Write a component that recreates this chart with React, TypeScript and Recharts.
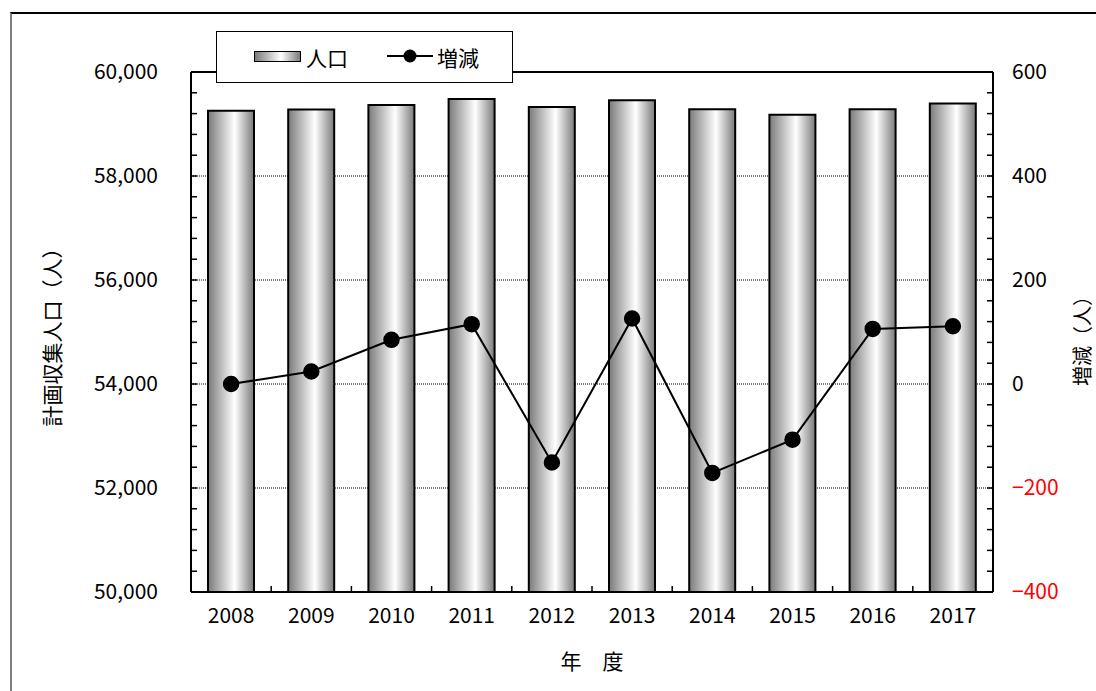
import React from 'react';
import { ComposedChart, Bar, Line, XAxis, YAxis, CartesianGrid, ReferenceLine, Legend, Label } from 'recharts';

const years = ['2008', '2009', '2010', '2011', '2012', '2013', '2014', '2015', '2016', '2017'];
const population = [59256, 59280, 59365, 59480, 59329, 59455, 59284, 59177, 59283, 59394];
const change = [0, 24, 85, 115, -151, 126, -171, -107, 106, 111];

const leftMajorTicks = [50000, 52000, 54000, 56000, 58000, 60000];
const rightMajorTicks = [-400, -200, 0, 200, 400, 600];
const leftTicks: number[] = [];
for (let v = 50000; v <= 60000; v += 400) leftTicks.push(v);
const rightTicks: number[] = [];
for (let v = -400; v <= 600; v += 40) rightTicks.push(v);

const data = years.map((y, i) => ({ year: y, pop: population[i], diff: change[i] }));

const FONT = "'Noto Sans CJK JP', 'Noto Sans', sans-serif";
const TICK_FS = 21;
const L_MARGIN = 33;
const R_MARGIN = 19;
const X_MARGIN = 16;

const LeftTick = (props: any) => {
  const { x, y, payload } = props;
  const axisX = x + L_MARGIN;
  const v = payload.value;
  return (
    <g>
      <line x1={axisX} x2={axisX + 6} y1={y} y2={y} stroke="#000" strokeWidth={1.5} />
      {leftMajorTicks.includes(v) && (
        <text x={x} y={y} dy="0.355em" textAnchor="end" fontFamily={FONT} fontSize={TICK_FS} fill="#000">
          {v.toLocaleString('en-US')}
        </text>
      )}
    </g>
  );
};

const RightTick = (props: any) => {
  const { x, y, payload } = props;
  const axisX = x - R_MARGIN;
  const v = payload.value;
  return (
    <g>
      <line x1={axisX - 6} x2={axisX} y1={y} y2={y} stroke="#000" strokeWidth={1.5} />
      {rightMajorTicks.includes(v) && (
        <text x={x} y={y} dy="0.355em" textAnchor="start" fontFamily={FONT} fontSize={TICK_FS} fill={v < 0 ? '#ff0000' : '#000'}>
          {v < 0 ? '\u2212' + Math.abs(v) : String(v)}
        </text>
      )}
    </g>
  );
};

const XTick = (props: any) => {
  const { x, y, payload, index, width, visibleTicksCount } = props;
  const axisY = y - X_MARGIN;
  const n = visibleTicksCount || years.length;
  const half = width ? width / n / 2 : 40;
  return (
    <g>
      {index < n - 1 && (
        <line x1={x + half} x2={x + half} y1={axisY} y2={axisY - 6} stroke="#000" strokeWidth={1.5} />
      )}
      <text x={x} y={y} dy="0.71em" textAnchor="middle" fontFamily={FONT} fontSize={TICK_FS} fill="#000">
        {payload.value}
      </text>
    </g>
  );
};

const LegendBox = () => (
  <div
    style={{
      position: 'relative',
      width: 297,
      height: 52,
      boxSizing: 'border-box',
      border: '1.5px solid #000',
      background: '#fff',
      fontFamily: FONT,
    }}
  >
    <div
      style={{
        position: 'absolute',
        left: 37,
        top: 19,
        width: 47,
        height: 11,
        boxSizing: 'border-box',
        border: '1.5px solid #000',
        background: 'linear-gradient(to right, #7a7a7a, #ffffff 58%, #7a7a7a)',
      }}
    />
    <span style={{ position: 'absolute', left: 89, top: 10, fontSize: 21, lineHeight: '30px', color: '#000' }}>人口</span>
    <svg style={{ position: 'absolute', left: 170, top: 14 }} width={46} height={20}>
      <line x1={0} x2={46} y1={10} y2={10} stroke="#000" strokeWidth={2} />
      <circle cx={23} cy={10} r={6.5} fill="#000" />
    </svg>
    <span style={{ position: 'absolute', left: 220, top: 10, fontSize: 21, lineHeight: '30px', color: '#000' }}>増減</span>
  </div>
);

export default function App() {
  return (
    <div style={{ position: 'absolute', left: 0, top: 0, width: 1096, height: 691, background: '#fff' }}>
      <div
        style={{
          position: 'absolute',
          left: 10,
          top: 12,
          width: 1090,
          height: 690,
          borderTop: '2px solid #000',
          borderLeft: '2px solid #808080',
        }}
      />
      <div style={{ position: 'absolute', left: 0, top: 0 }}>
        <ComposedChart width={1096} height={691} data={data} margin={{ top: 72, right: 0, bottom: 0, left: 0 }}>
          <defs>
            <linearGradient id="barGrad" x1="0" y1="0" x2="1" y2="0">
              <stop offset="0%" stopColor="#7a7a7a" />
              <stop offset="58%" stopColor="#ffffff" />
              <stop offset="100%" stopColor="#7a7a7a" />
            </linearGradient>
          </defs>
          <CartesianGrid
            yAxisId="left"
            vertical={false}
            horizontalValues={[52000, 54000, 56000, 58000]}
            stroke="#000"
            strokeDasharray="1 1"
            strokeWidth={1}
          />
          <XAxis
            dataKey="year"
            height={99}
            interval={0}
            tickLine={false}
            tickSize={0}
            tickMargin={X_MARGIN}
            axisLine={{ stroke: '#000', strokeWidth: 2 }}
            tick={<XTick />}
          >
            <Label
              content={(p: any) => {
                const vb = p.viewBox;
                return (
                  <text x={vb.x + vb.width / 2} y={vb.y + 68} textAnchor="middle" dominantBaseline="central" fontFamily={FONT} fontSize={21} fill="#000">
                    年　度
                  </text>
                );
              }}
            />
          </XAxis>
          <YAxis
            yAxisId="left"
            width={191}
            domain={[50000, 60000]}
            ticks={leftTicks}
            interval={0}
            tickLine={false}
            tickSize={0}
            tickMargin={L_MARGIN}
            axisLine={{ stroke: '#000', strokeWidth: 2 }}
            tick={<LeftTick />}
            allowDataOverflow
          >
            <Label
              content={(p: any) => {
                const vb = p.viewBox;
                const cx = vb.x + 51;
                const cy = vb.y + vb.height / 2;
                return (
                  <text transform={`translate(${cx}, ${cy}) rotate(-90)`} textAnchor="middle" dominantBaseline="central" fontFamily={FONT} fontSize={21} fill="#000">
                    計画収集人口（人）
                  </text>
                );
              }}
            />
          </YAxis>
          <YAxis
            yAxisId="right"
            orientation="right"
            width={103}
            domain={[-400, 600]}
            ticks={rightTicks}
            interval={0}
            tickLine={false}
            tickSize={0}
            tickMargin={R_MARGIN}
            axisLine={{ stroke: '#000', strokeWidth: 2 }}
            tick={<RightTick />}
            allowDataOverflow
          >
            <Label
              content={(p: any) => {
                const vb = p.viewBox;
                const cx = vb.x + 88;
                const cy = vb.y + vb.height / 2 + 4;
                return (
                  <text transform={`translate(${cx}, ${cy}) rotate(-90)`} textAnchor="middle" dominantBaseline="central" fontFamily={FONT} fontSize={20} fill="#000">
                    増減（人）
                  </text>
                );
              }}
            />
          </YAxis>
          <ReferenceLine yAxisId="left" y={60000} stroke="#000" strokeWidth={2} />
          <Bar
            yAxisId="left"
            dataKey="pop"
            name="人口"
            barSize={46}
            fill="url(#barGrad)"
            stroke="#000"
            strokeWidth={2}
            isAnimationActive={false}
          />
          <Line
            yAxisId="right"
            dataKey="diff"
            name="増減"
            stroke="#000"
            strokeWidth={2}
            dot={{ r: 7.5, fill: '#000', stroke: '#000', strokeWidth: 1.5 }}
            activeDot={false}
            isAnimationActive={false}
          />
          <Legend
            layout="vertical"
            verticalAlign="middle"
            align="center"
            wrapperStyle={{ left: 216, top: 31, width: 297, height: 52, margin: 0 }}
            content={() => <LegendBox />}
          />
        </ComposedChart>
      </div>
    </div>
  );
}
